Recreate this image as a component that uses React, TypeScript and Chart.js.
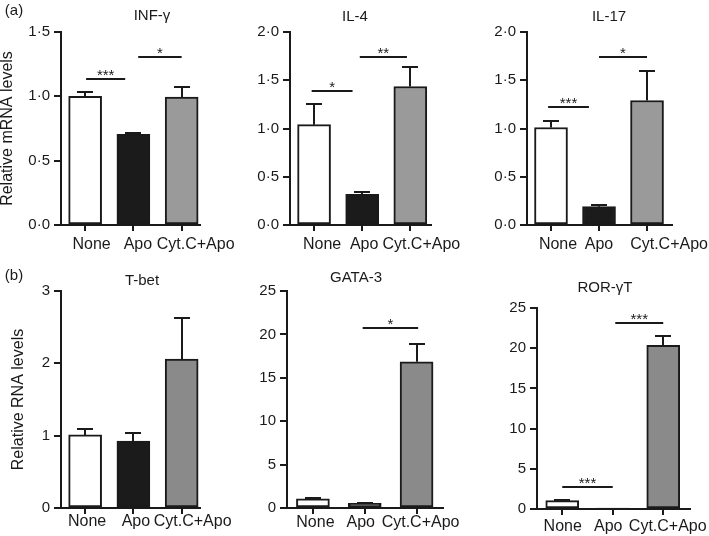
import { useEffect, useRef } from "react";
import { Chart, registerables } from "chart.js";

Chart.register(...registerables);

// ---------- data ----------
const categories = ["None", "Apo", "Cyt.C+Apo"];

const infgMeans = [1.0, 0.705, 0.995];
const infgErrors = [0.03, 0.012, 0.075];
const il4Means = [1.04, 0.318, 1.435];
const il4Errors = [0.21, 0.027, 0.205];
const il17Means = [1.01, 0.19, 1.29];
const il17Errors = [0.065, 0.015, 0.305];
const tbetMeans = [1.01, 0.925, 2.06];
const tbetErrors = [0.08, 0.115, 0.56];
const gata3Means = [1.05, 0.55, 16.85];
const gata3Errors = [0.12, 0.08, 2.1];
const rorgtMeans = [1.05, 0.03, 20.35];
const rorgtErrors = [0.13, 0.0, 1.15];

const ticks15 = [0, 0.5, 1, 1.5];
const ticks15Labels = ["0·0", "0·5", "1·0", "1·5"];
const ticks20 = [0, 0.5, 1, 1.5, 2];
const ticks20Labels = ["0·0", "0·5", "1·0", "1·5", "2·0"];
const ticks3 = [0, 1, 2, 3];
const ticks3Labels = ["0", "1", "2", "3"];
const ticks25 = [0, 5, 10, 15, 20, 25];
const ticks25Labels = ["0", "5", "10", "15", "20", "25"];

type Sig = { from: number; to: number; y: number; label: string };
const infgSig: Sig[] = [
  { from: 0.02, to: 0.83, y: 1.134, label: "***" },
  { from: 1.1, to: 2.0, y: 1.305, label: "*" },
];
const il4Sig: Sig[] = [
  { from: -0.05, to: 0.8, y: 1.392, label: "*" },
  { from: 0.95, to: 1.93, y: 1.744, label: "**" },
];
const il17Sig: Sig[] = [
  { from: -0.06, to: 0.79, y: 1.22, label: "***" },
  { from: 1.0, to: 2.0, y: 1.744, label: "*" },
];
const tbetSig: Sig[] = [];
const gata3Sig: Sig[] = [{ from: 0.96, to: 2.03, y: 20.77, label: "*" }];
const rorgtSig: Sig[] = [
  { from: 0.0, to: 1.0, y: 2.7, label: "***" },
  { from: 1.05, to: 2.0, y: 23.1, label: "***" },
];

// ---------- layout / style ----------
const W = 709;
const H = 536;
const FONT = "'Liberation Sans', Arial, Helvetica, sans-serif";
const INK = "#1a1a1a";

interface Panel {
  title: string;
  means: number[];
  errors: number[];
  ticks: number[];
  tickLabels: string[];
  sig: Sig[];
  area: { left: number; right: number; top: number; bottom: number };
  xMax: number;
  titlePos: [number, number];
  letter?: { text: string; x: number; y: number };
  yTitle?: string;
  yTitlePad?: number;
  labelDx: number[];
  labelDy: number;
  gray: string;
}

const panels: Panel[] = [
  {
    title: "INF-γ", means: infgMeans, errors: infgErrors, ticks: ticks15, tickLabels: ticks15Labels, sig: infgSig,
    area: { left: 61, right: 200, top: 32, bottom: 225 }, xMax: 2.38, titlePos: [152, 16],
    letter: { text: "(a)", x: 14, y: 11 }, yTitle: "Relative mRNA levels", yTitlePad: 0,
    labelDx: [6.5, 4.5, 14], labelDy: 19.5, gray: "#9a9a9a",
  },
  {
    title: "IL-4", means: il4Means, errors: il4Errors, ticks: ticks20, tickLabels: ticks20Labels, sig: il4Sig,
    area: { left: 290, right: 431, top: 32, bottom: 225 }, xMax: 2.43, titlePos: [355, 17],
    labelDx: [8, 2, 11], labelDy: 19.5, gray: "#9a9a9a",
  },
  {
    title: "IL-17", means: il17Means, errors: il17Errors, ticks: ticks20, tickLabels: ticks20Labels, sig: il17Sig,
    area: { left: 527, right: 672, top: 32, bottom: 225 }, xMax: 2.52, titlePos: [609, 17],
    labelDx: [7, 0, 22], labelDy: 19.5, gray: "#9a9a9a",
  },
  {
    title: "T-bet", means: tbetMeans, errors: tbetErrors, ticks: ticks3, tickLabels: ticks3Labels, sig: tbetSig,
    area: { left: 61, right: 200, top: 291, bottom: 508 }, xMax: 2.38, titlePos: [142, 281],
    letter: { text: "(b)", x: 14, y: 276 }, yTitle: "Relative RNA levels", yTitlePad: 11,
    labelDx: [2, 2.5, 11], labelDy: 13.5, gray: "#8a8a8a",
  },
  {
    title: "GATA-3", means: gata3Means, errors: gata3Errors, ticks: ticks25, tickLabels: ticks25Labels, sig: gata3Sig,
    area: { left: 287, right: 443, top: 291, bottom: 508 }, xMax: 2.51, titlePos: [356, 278],
    labelDx: [2.5, -4, 4], labelDy: 15, gray: "#8a8a8a",
  },
  {
    title: "ROR-γT", means: rorgtMeans, errors: rorgtErrors, ticks: ticks25, tickLabels: ticks25Labels, sig: rorgtSig,
    area: { left: 537, right: 690, top: 308, bottom: 509 }, xMax: 2.53, titlePos: [605, 288],
    labelDx: [0.5, -4.5, 4.5], labelDy: 17.4, gray: "#8a8a8a",
  },
];

function buildChart(canvas: HTMLCanvasElement, p: Panel) {
  const yAxisW = p.yTitle ? p.area.left : 40;
  const padLeft = p.area.left - yAxisW;
  const xAxisH = 20;

  const overlay = {
    id: "overlay",
    afterDatasetsDraw(chart: any) {
      const ctx = chart.ctx as CanvasRenderingContext2D;
      const xs = chart.scales.x;
      const ys = chart.scales.y;
      ctx.save();
      ctx.strokeStyle = INK;
      ctx.fillStyle = INK;
      ctx.lineWidth = 2;
      // error bars (upper only)
      p.means.forEach((m, i) => {
        const e = p.errors[i];
        if (e <= 0) return;
        const x = Math.round(xs.getPixelForValue(i));
        const y0 = ys.getPixelForValue(m);
        const y1 = Math.round(ys.getPixelForValue(m + e));
        ctx.beginPath();
        ctx.moveTo(x, y0);
        ctx.lineTo(x, y1);
        ctx.moveTo(x - 8, y1);
        ctx.lineTo(x + 8, y1);
        ctx.stroke();
      });
      // significance brackets
      ctx.font = `15px ${FONT}`;
      ctx.textAlign = "center";
      ctx.textBaseline = "alphabetic";
      p.sig.forEach((s) => {
        const x1 = xs.getPixelForValue(s.from);
        const x2 = xs.getPixelForValue(s.to);
        const y = Math.round(ys.getPixelForValue(s.y));
        ctx.beginPath();
        ctx.moveTo(x1, y);
        ctx.lineTo(x2, y);
        ctx.stroke();
        ctx.fillText(s.label, (x1 + x2) / 2, y + 1);
      });
      ctx.restore();
    },
    afterDraw(chart: any) {
      const ctx = chart.ctx as CanvasRenderingContext2D;
      const xs = chart.scales.x;
      ctx.save();
      ctx.fillStyle = INK;
      ctx.textAlign = "center";
      ctx.textBaseline = "middle";
      // category labels under the x axis ticks
      ctx.font = `16px ${FONT}`;
      categories.forEach((c, i) => {
        ctx.fillText(c, xs.getPixelForValue(i) + p.labelDx[i], chart.chartArea.bottom + p.labelDy);
      });
      // panel title and letter
      ctx.font = `15px ${FONT}`;
      ctx.fillText(p.title, p.titlePos[0], p.titlePos[1]);
      if (p.letter) ctx.fillText(p.letter.text, p.letter.x, p.letter.y);
      ctx.restore();
    },
  };

  return new Chart(canvas, {
    type: "bar",
    data: {
      labels: categories,
      datasets: [
        {
          label: p.title,
          data: p.means.map((v, i) => ({ x: i, y: v })),
          backgroundColor: ["#ffffff", "#1b1b1b", p.gray],
          borderColor: INK,
          borderWidth: 2,
          borderSkipped: false,
          barThickness: 33,
        } as any,
      ],
    },
    options: {
      animation: false,
      responsive: false,
      events: [],
      layout: {
        padding: { left: padLeft, right: W - p.area.right, top: p.area.top, bottom: H - p.area.bottom - xAxisH },
      },
      plugins: { legend: { display: false }, tooltip: { enabled: false }, title: { display: false } },
      scales: {
        x: {
          type: "linear",
          offset: false,
          min: -0.5,
          max: p.xMax,
          afterBuildTicks: (s: any) => {
            s.ticks = categories.map((_, i) => ({ value: i }));
          },
          afterFit: (s: any) => {
            s.height = xAxisH;
          },
          ticks: { display: false },
          grid: { offset: false, drawOnChartArea: false, drawTicks: true, tickLength: 6, color: INK, lineWidth: 2 },
          border: { display: true, color: INK, width: 2 },
        },
        y: {
          type: "linear",
          min: 0,
          max: p.ticks[p.ticks.length - 1],
          afterBuildTicks: (s: any) => {
            s.ticks = p.ticks.map((v) => ({ value: v }));
          },
          afterFit: (s: any) => {
            s.width = yAxisW;
          },
          ticks: {
            callback: (_v: any, i: number) => p.tickLabels[i],
            padding: 4,
            color: INK,
            font: { family: FONT, size: 15 },
          },
          grid: { drawOnChartArea: false, drawTicks: true, tickLength: 7, color: INK, lineWidth: 2 },
          border: { display: true, color: INK, width: 2 },
          title: p.yTitle
            ? {
                display: true,
                text: p.yTitle,
                color: INK,
                font: { family: FONT, size: 16, lineHeight: 1 },
                padding: { top: p.yTitlePad ?? 0, bottom: 0 },
              }
            : { display: false },
        },
      },
    },
    plugins: [overlay],
  } as any);
}

function PanelCanvas({ panel }: { panel: Panel }) {
  const ref = useRef<HTMLCanvasElement | null>(null);
  useEffect(() => {
    if (!ref.current) return;
    const chart = buildChart(ref.current, panel);
    return () => chart.destroy();
  }, [panel]);
  return (
    <canvas
      ref={ref}
      width={W}
      height={H}
      style={{ position: "absolute", left: 0, top: 0, width: W, height: H }}
    />
  );
}

export default function App() {
  useEffect(() => {
    document.body.style.margin = "0";
  }, []);
  return (
    <div style={{ position: "absolute", left: 0, top: 0, width: W, height: H, background: "#ffffff", overflow: "hidden" }}>
      {panels.map((p) => (
        <PanelCanvas key={p.title} panel={p} />
      ))}
    </div>
  );
}
